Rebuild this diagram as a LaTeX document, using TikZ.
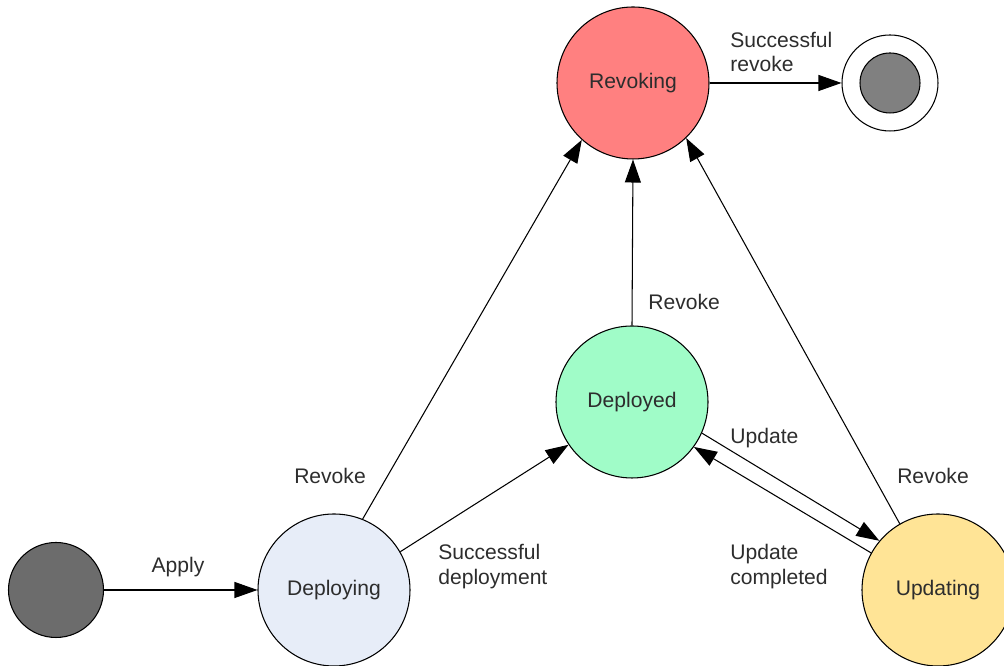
\documentclass[tikz,border=0pt]{standalone}
\usepackage{fontspec}
\setmainfont{Liberation Sans}
\usetikzlibrary{arrows.meta}
\definecolor{Ink}{RGB}{45,45,45}
\definecolor{RevokeRed}{RGB}{255,128,128}
\definecolor{DeployedGreen}{RGB}{160,252,200}
\definecolor{DeployBlue}{RGB}{231,237,248}
\definecolor{UpdateYellow}{RGB}{255,228,150}
\definecolor{StartGray}{RGB}{108,108,108}
\definecolor{EndGray}{RGB}{128,128,128}
\tikzset{
  >={Triangle[length=4.6mm,width=3.2mm]},
  state/.style={circle,draw=black,line width=.6pt,minimum size=3.04cm,inner sep=0pt,text=Ink,font=\fontsize{12}{14.2}\selectfont},
  startstate/.style={circle,draw=black,line width=.6pt,fill=StartGray,minimum size=1.9cm,inner sep=0pt},
  endstate/.style={circle,draw=black,line width=.6pt,fill=white,minimum size=1.92cm,inner sep=0pt},
  endcore/.style={circle,draw=black,line width=.6pt,fill=EndGray,minimum size=1.2cm,inner sep=0pt},
  edgelabel/.style={text=Ink,font=\fontsize{12}{14.2}\selectfont,align=left,inner sep=0pt},
  trans/.style={->,line width=.6pt,draw=black}
}
\begin{document}
\begin{tikzpicture}[x=1cm,y=1cm]
  \useasboundingbox (0,0) rectangle (20.08,13.32);
  \begin{scope}
  \clip (0,0) rectangle (20.08,13.32);
  \node[startstate] (init) at (1.12,1.52) {};
  \node[state,fill=DeployBlue] (deploying) at (6.68,1.52) {Deploying};
  \node[state,fill=DeployedGreen] (deployed) at (12.64,5.28) {Deployed};
  \node[state,fill=RevokeRed] (revoking) at (12.66,11.66) {Revoking};
  \node[state,fill=UpdateYellow] (updating) at (18.76,1.52) {Updating};
  \node[endstate] (final) at (17.80,11.66) {};
  \node[endcore] (finalcore) at (final.center) {};
  \end{scope}
  % labels
  \node[edgelabel] (applylbl) at (3.56,1.98) {Apply};
  \node[edgelabel] (revokelbla) at (6.60,3.80) {Revoke};
  \node[edgelabel,anchor=west] (deplbl) at (8.76,1.98) {Successful\\deployment};
  \node[edgelabel,anchor=west] (revokelblb) at (12.96,7.28) {Revoke};
  \node[edgelabel,anchor=west] (updlbl) at (14.60,4.56) {Update};
  \node[edgelabel,anchor=west] (donelbl) at (14.60,1.98) {Update\\completed};
  \node[edgelabel] (revokelblc) at (18.66,3.80) {Revoke};
  \node[edgelabel,anchor=west] (endlbl) at (14.60,12.28) {Successful\\revoke};
    \draw[trans] (init.east)--(deploying.west);
    \draw[trans] (deploying.68)--(revoking.-132);
    \draw[trans] (deploying.30)--(deployed.-146);
    \draw[trans] (deployed.north)--(revoking.south);
    \draw[trans] (updating.120)--(revoking.-46);
    \draw[trans] (deployed.-24)--(updating.140);
    \draw[trans] (updating.151)--(deployed.-36);
    \draw[trans] (revoking.east)--(final.west);
\end{tikzpicture}
\end{document}
